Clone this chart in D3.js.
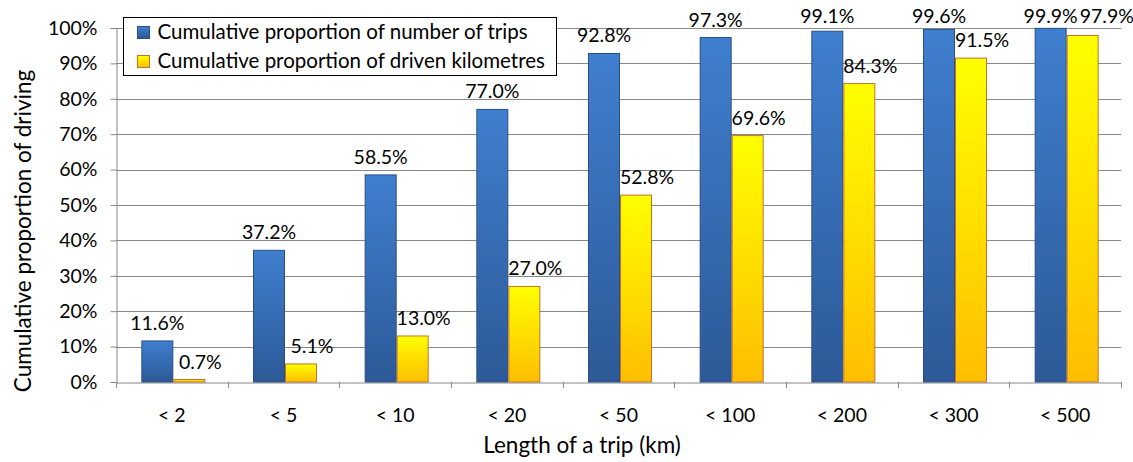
<!DOCTYPE html>
<html>
<head>
<meta charset="utf-8">
<script src="https://cdn.jsdelivr.net/npm/d3@7"></script>
<style>
  html, body { margin: 0; padding: 0; background: #fff; }
  svg { display: block; font-family: "Lato", "Open Sans", sans-serif; }
</style>
</head>
<body>
<svg id="chart" width="1133" height="462"></svg>
<script>
// Trip length classes and cumulative shares (%)
const categories = ["< 2", "< 5", "< 10", "< 20", "< 50", "< 100", "< 200", "< 300", "< 500"];
const tripShare = [11.6, 37.2, 58.5, 77.0, 92.8, 97.3, 99.1, 99.6, 99.9];
const kmShare = [0.7, 5.1, 13.0, 27.0, 52.8, 69.6, 84.3, 91.5, 97.9];
const yTicks = [0, 10, 20, 30, 40, 50, 60, 70, 80, 90, 100];
const seriesNames = ["Cumulative proportion of number of trips", "Cumulative proportion of driven kilometres"];

const svg = d3.select("#chart");
const plot = { left: 116, right: 1121, top: 28, bottom: 382 };

const x = d3.scaleBand().domain(categories).range([plot.left, plot.right]).padding(0);
const y = d3.scaleLinear().domain([0, 100]).range([plot.bottom, plot.top]);
const barW = 32;
const axisGrey = "#888888";
const labelTop = 23; // highest baseline a value label may use

// Bar gradients
const defs = svg.append("defs");
const gBlue = defs.append("linearGradient").attr("id", "gBlue").attr("x1", 0).attr("y1", 0).attr("x2", 0).attr("y2", 1);
gBlue.append("stop").attr("offset", "0%").attr("stop-color", "#3f7fcf");
gBlue.append("stop").attr("offset", "100%").attr("stop-color", "#2d5997");
const gYellow = defs.append("linearGradient").attr("id", "gYellow").attr("x1", 0).attr("y1", 0).attr("x2", 0).attr("y2", 1);
gYellow.append("stop").attr("offset", "0%").attr("stop-color", "#ffff00");
gYellow.append("stop").attr("offset", "100%").attr("stop-color", "#ffbe00");

// Horizontal gridlines
svg.append("g")
  .selectAll("line")
  .data(yTicks.filter(d => d > 0))
  .join("line")
  .attr("x1", plot.left).attr("x2", plot.right)
  .attr("y1", d => Math.round(y(d)) + 0.5).attr("y2", d => Math.round(y(d)) + 0.5)
  .attr("stroke", axisGrey).attr("stroke-width", 1);

// Y axis
const yAxis = svg.append("g")
  .attr("transform", `translate(${plot.left + 0.5},0)`)
  .call(d3.axisLeft(y).tickValues(yTicks).tickFormat(d => d + "%").tickSize(6).tickPadding(13));
yAxis.select(".domain").attr("stroke", axisGrey);
yAxis.selectAll(".tick line").attr("stroke", axisGrey);
yAxis.selectAll(".tick text").attr("font-size", 19.5).attr("fill", "#000").attr("font-family", "Lato");

// X axis
const xAxis = svg.append("g")
  .attr("transform", `translate(0,${plot.bottom + 0.5})`)
  .call(d3.axisBottom(x).tickSize(0).tickPadding(26));
xAxis.select(".domain").attr("stroke", axisGrey);
xAxis.selectAll(".tick text").attr("font-size", 19.5).attr("fill", "#000").attr("font-family", "Lato");
// Category separators below the axis
svg.append("g")
  .selectAll("line")
  .data(categories.map(d => x(d)).concat([plot.right]))
  .join("line")
  .attr("x1", d => Math.round(d) + 0.5).attr("x2", d => Math.round(d) + 0.5)
  .attr("y1", plot.bottom).attr("y2", plot.bottom + 6)
  .attr("stroke", axisGrey);

// Bars
const center = d => x(d) + x.bandwidth() / 2 + 1.5;
const bars = svg.append("g");
bars.selectAll("rect.trip")
  .data(categories)
  .join("rect")
  .attr("class", "trip")
  .attr("x", d => center(d) - barW + 0.5)
  .attr("y", (d, i) => y(tripShare[i]))
  .attr("width", barW - 1)
  .attr("height", (d, i) => y(0) - y(tripShare[i]))
  .attr("fill", "url(#gBlue)")
  .attr("stroke", "#2b4f82").attr("stroke-width", 1);
bars.selectAll("rect.km")
  .data(categories)
  .join("rect")
  .attr("class", "km")
  .attr("x", d => center(d) + 0.5)
  .attr("y", (d, i) => y(kmShare[i]))
  .attr("width", barW - 1)
  .attr("height", (d, i) => y(0) - y(kmShare[i]))
  .attr("fill", "url(#gYellow)")
  .attr("stroke", "#c0722e").attr("stroke-width", 1);

// Value labels above each bar
const labels = svg.append("g").attr("font-size", 19.5).attr("text-anchor", "middle").attr("fill", "#000");
const tripLabels = labels.selectAll("text.trip")
  .data(categories)
  .join("text")
  .attr("class", "trip")
  .attr("x", d => center(d) - barW / 2)
  .attr("y", (d, i) => Math.max(y(tripShare[i]) - 11, labelTop))
  .text((d, i) => tripShare[i].toFixed(1) + "%");
const kmLabels = labels.selectAll("text.km")
  .data(categories)
  .join("text")
  .attr("class", "km")
  .attr("x", d => center(d) + barW / 2 + 11)
  .attr("y", (d, i) => Math.max(y(kmShare[i]) - 11, labelTop))
  .text((d, i) => kmShare[i].toFixed(1) + "%");

// Keep paired labels from colliding when both bars are nearly the same height
kmLabels.each(function (d, i) {
  const tripNode = tripLabels.nodes()[i];
  const tb = tripNode.getBBox();
  const kb = this.getBBox();
  const overlapY = kb.y < tb.y + tb.height && tb.y < kb.y + kb.height;
  if (overlapY && kb.x < tb.x + tb.width + 2) {
    const shift = tb.x + tb.width + 2 - kb.x;
    d3.select(this).attr("x", +d3.select(this).attr("x") + shift)
      .attr("y", tripNode.getAttribute("y"));
  }
});

// Axis titles
svg.append("text")
  .attr("x", 582)
  .attr("y", 453)
  .attr("text-anchor", "middle")
  .attr("font-size", 22.5)
  .text("Length of a trip (km)");
svg.append("text")
  .attr("transform", "translate(31,231) rotate(-90)")
  .attr("text-anchor", "middle")
  .attr("font-size", 22.5)
  .text("Cumulative proportion of driving");

// Legend
const legend = svg.append("g").attr("transform", "translate(123.5,17.5)");
legend.append("rect").attr("width", 433).attr("height", 58)
  .attr("fill", "#fff").attr("stroke", "#000").attr("stroke-width", 1);
const fills = ["url(#gBlue)", "url(#gYellow)"];
const strokes = ["#2b4f82", "#c0722e"];
seriesNames.forEach((name, i) => {
  const row = legend.append("g").attr("transform", `translate(14,${9 + i * 29})`);
  row.append("rect").attr("width", 12).attr("height", 12)
    .attr("fill", fills[i]).attr("stroke", strokes[i]);
  row.append("text").attr("x", 20).attr("y", 12).attr("font-size", 20.5).text(name);
});
</script>
</body>
</html>
